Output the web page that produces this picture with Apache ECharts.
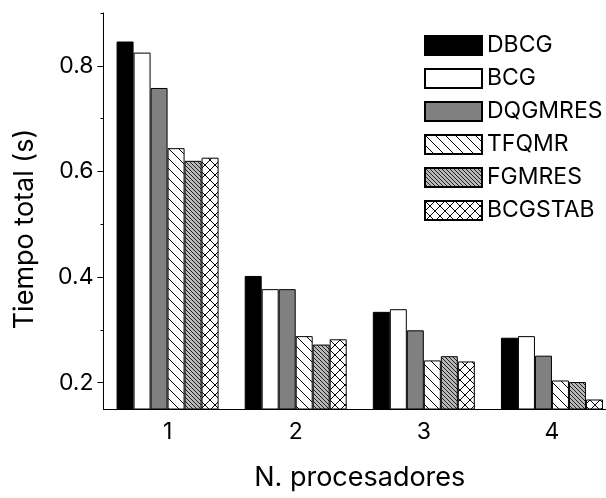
<!DOCTYPE html>
<html>
<head>
<meta charset="utf-8">
<script src="https://cdn.jsdelivr.net/npm/echarts@6/dist/echarts.min.js"></script>
<style>
  html, body { margin: 0; padding: 0; background: #fff; }
  #chart { width: 606px; height: 498px; }
</style>
</head>
<body>
<div id="chart"></div>
<script>
// Number of processors on the x axis
const categories = ['1', '2', '3', '4'];

// Total time (s) per solver
const DBCG    = [0.846, 0.402, 0.334, 0.285];
const BCG     = [0.825, 0.377, 0.339, 0.288];
const DQGMRES = [0.758, 0.377, 0.299, 0.251];
const TFQMR   = [0.644, 0.288, 0.242, 0.204];
const FGMRES  = [0.620, 0.272, 0.250, 0.201];
const BCGSTAB = [0.626, 0.282, 0.240, 0.168];

// Y-axis ticks: labelled majors and short minors in between
const yMajorTicks = [0.2, 0.4, 0.6, 0.8];
const yMinorTicks = [0.3, 0.5, 0.7, 0.9];
const yMin = 0.15, yMax = 0.9;

const FONT = "Inter, 'Liberation Sans', Arial, sans-serif";

// Small repeating hatch tiles used as bar fills
function hatch(size, bg, fg, back, fwd, lw) {
  const c = document.createElement('canvas');
  c.width = c.height = size;
  const g = c.getContext('2d');
  g.fillStyle = bg;
  g.fillRect(0, 0, size, size);
  g.strokeStyle = fg;
  g.lineWidth = lw;
  g.beginPath();
  for (let k = -1; k <= 1; k++) {
    if (back) { g.moveTo(0, k * size); g.lineTo(size, size + k * size); }
    if (fwd)  { g.moveTo(0, size + k * size); g.lineTo(size, k * size); }
  }
  g.stroke();
  return { image: c, repeat: 'repeat' };
}

const fills = {
  DBCG: '#000000',
  BCG: '#ffffff',
  DQGMRES: '#808080',
  TFQMR: hatch(10, '#ffffff', '#000000', true, false, 1),
  FGMRES: hatch(4, '#b8b8b8', '#222222', true, false, 1),
  BCGSTAB: hatch(10, '#ffffff', '#000000', true, true, 1)
};

const seriesData = [
  ['DBCG', DBCG], ['BCG', BCG], ['DQGMRES', DQGMRES],
  ['TFQMR', TFQMR], ['FGMRES', FGMRES], ['BCGSTAB', BCGSTAB]
];

const chart = echarts.init(document.getElementById('chart'), null, { renderer: 'canvas' });

chart.setOption({
  animation: false,
  backgroundColor: '#ffffff',
  grid: {
    left: 103.5, right: -10, top: 13, bottom: 89,
    containLabel: false,
    outerBoundsMode: 'none'
  },
  legend: {
    orient: 'vertical',
    left: 424,
    top: 34,
    padding: 0,
    itemWidth: 57,
    itemHeight: 19,
    itemGap: 10,
    selectedMode: false,
    icon: 'rect',
    textStyle: { fontFamily: FONT, fontSize: 23, color: '#000' },
    data: seriesData.map(s => s[0])
  },
  xAxis: [
    {
      type: 'category',
      data: categories,
      name: 'N. procesadores',
      nameLocation: 'middle',
      nameGap: 55,
      nameTextStyle: { fontFamily: FONT, fontSize: 27, color: '#000' },
      axisLine: { lineStyle: { color: '#000', width: 1 } },
      axisTick: { alignWithLabel: true, length: 6, lineStyle: { color: '#000' } },
      axisLabel: { fontFamily: FONT, fontSize: 23, color: '#000', margin: 12 },
      splitLine: { show: false }
    },
    {
      type: 'category',
      data: categories,
      position: 'bottom',
      axisLine: { show: false },
      axisTick: { length: 3, lineStyle: { color: '#000' } },
      axisLabel: { show: false },
      splitLine: { show: false }
    }
  ],
  yAxis: [
    {
      type: 'value',
      min: yMin,
      max: yMax,
      name: 'Tiempo total (s)',
      nameLocation: 'middle',
      nameGap: 65,
      // extra space at the end of the rotated title moves it a little lower
      nameTextStyle: { fontFamily: FONT, fontSize: 27, color: '#000', padding: [0, 36, 0, 0] },
      axisLine: { show: true, lineStyle: { color: '#000', width: 1 } },
      axisTick: { show: true, length: 6, customValues: yMajorTicks, lineStyle: { color: '#000' } },
      axisLabel: {
        fontFamily: FONT, fontSize: 23, color: '#000', margin: 10,
        customValues: yMajorTicks,
        formatter: v => v.toFixed(1)
      },
      splitLine: { show: false }
    },
    {
      type: 'value',
      min: yMin,
      max: yMax,
      position: 'left',
      axisLine: { show: false },
      axisTick: { show: true, length: 3, customValues: yMinorTicks, lineStyle: { color: '#000' } },
      axisLabel: { show: false },
      splitLine: { show: false }
    }
  ],
  series: seriesData.map(([name, values]) => ({
    name,
    type: 'bar',
    xAxisIndex: 0,
    yAxisIndex: 0,
    data: values,
    barWidth: 17,
    barGap: '0%',
    itemStyle: { color: fills[name], borderColor: '#000', borderWidth: 1 }
  }))
});
</script>
</body>
</html>
